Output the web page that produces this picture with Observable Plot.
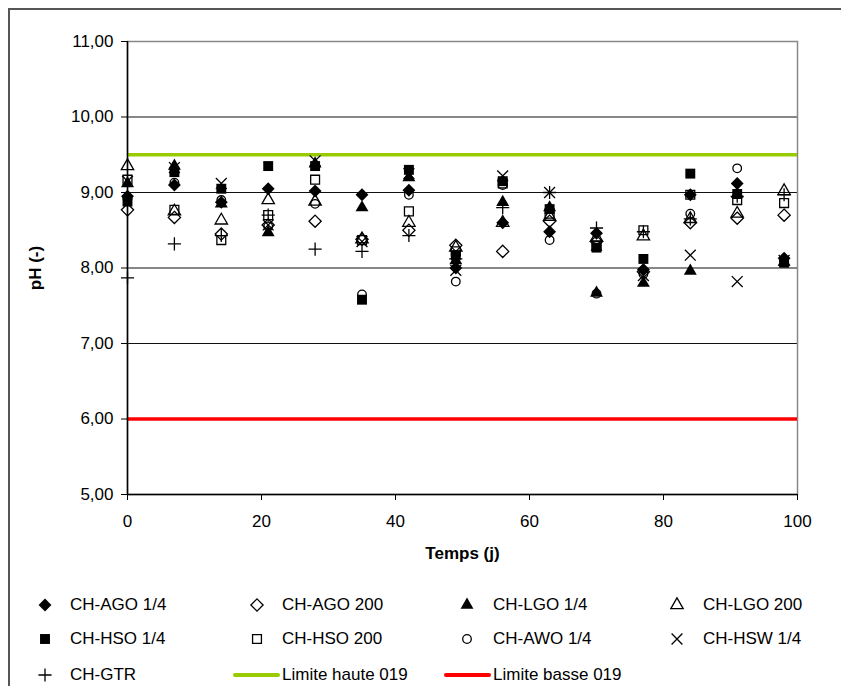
<!DOCTYPE html>
<html>
<head>
<meta charset="utf-8">
<script src="https://cdn.jsdelivr.net/npm/d3@7"></script>
<script src="https://cdn.jsdelivr.net/npm/@observablehq/plot@0.6"></script>
<style>
  body { margin: 0; background: #fff; font-family: "Liberation Sans", Arial, sans-serif; }
  #wrap { position: relative; width: 841px; height: 686px; overflow: hidden; background: #fff; }
  #border { position: absolute; left: 8px; top: 8px; width: 1000px; height: 1000px;
            border-left: 2px solid #555; border-top: 2px solid #555; pointer-events: none; }
  #legend { position: absolute; left: 0; top: 590px; width: 841px; height: 96px; }
  .item-text { position: absolute; font-size: 17px; line-height: 20px; color: #000; white-space: nowrap; transform: translateY(-50%); }
  .item-mark { position: absolute; transform: translate(-50%, -50%); }
</style>
</head>
<body>
<div id="wrap">
  <div id="chart"></div>
  <div id="legend"></div>
  <div id="border"></div>
</div>
<script>
// ---- data ----
const days = [0, 7, 14, 21, 28, 35, 42, 49, 56, 63, 70, 77, 84, 91, 98];
const seriesNames = ["CH-AGO 1/4", "CH-AGO 200", "CH-LGO 1/4", "CH-LGO 200", "CH-HSO 1/4", "CH-HSO 200", "CH-AWO 1/4", "CH-HSW 1/4", "CH-GTR"];
const agoQuarter = [8.95, 9.10, 8.87, 9.05, 9.02, 8.97, 9.03, 8.00, 8.60, 8.48, 8.46, 7.98, 8.97, 9.12, 8.13];
const ago200     = [8.77, 8.67, 8.45, 8.57, 8.62, 8.38, 8.50, 8.30, 8.22, 8.62, 8.35, 7.95, 8.60, 8.66, 8.70];
const lgoQuarter = [9.12, 9.35, 8.85, 8.47, 9.38, 8.80, 9.20, 8.10, 8.87, 8.80, 7.67, 7.80, 7.96, 8.98, 8.08];
const lgo200     = [9.35, 8.75, 8.63, 8.90, 8.88, 8.38, 8.60, 8.27, 8.60, 8.68, 8.40, 8.42, 8.65, 8.72, 9.02];
const hsoQuarter = [8.88, 9.27, 9.05, 9.35, 9.35, 7.58, 9.30, 8.17, 9.15, 8.78, 8.27, 8.12, 9.25, 8.98, 8.07];
const hso200     = [9.17, 8.77, 8.37, 8.70, 9.17, 8.37, 8.75, 8.22, 9.12, 8.72, 8.30, 8.50, 8.97, 8.90, 8.86];
const awoQuarter = [8.92, 9.13, 8.90, 8.55, 8.85, 7.65, 8.97, 7.82, 9.10, 8.37, 7.66, 7.92, 8.72, 9.32, 8.10];
const hswQuarter = [9.15, 9.33, 9.12, 8.57, 9.42, 8.35, 9.25, 7.97, 9.22, 9.00, 8.30, 7.90, 8.17, 7.82, 8.10];
const gtr        = [7.87, 8.32, 8.43, 8.70, 8.25, 8.22, 8.43, 8.12, 8.80, 9.00, 8.53, 8.48, 8.65, 8.95, 8.97];
const limitNames = ["Limite haute 019", "Limite basse 019"];
const limitHigh = 9.5;
const limitLow = 6.0;
const xTicks = [0, 20, 40, 60, 80, 100];
const yTicks = [5, 6, 7, 8, 9, 10, 11];
const xLabel = "Temps (j)";
const yLabel = "pH (-)";

// ---- styling per series ----
const seriesValues = [agoQuarter, ago200, lgoQuarter, lgo200, hsoQuarter, hso200, awoQuarter, hswQuarter, gtr];
const styles = [
  {symbol: "diamond2", d3s: d3.symbolDiamond2, r: 5.8, filled: true},
  {symbol: "diamond2", d3s: d3.symbolDiamond2, r: 5.5, filled: false},
  {symbol: "triangle", d3s: d3.symbolTriangle, r: 4.8, filled: true},
  {symbol: "triangle", d3s: d3.symbolTriangle, r: 4.6, filled: false},
  {symbol: "square", d3s: d3.symbolSquare, r: 5.6, filled: true},
  {symbol: "square", d3s: d3.symbolSquare, r: 5.0, filled: false},
  {symbol: "circle", d3s: d3.symbolCircle, r: 4.3, filled: false},
  {symbol: "times", d3s: d3.symbolTimes, r: 5.0, filled: false},
  {symbol: "plus", d3s: d3.symbolPlus, r: 4.3, filled: false}
];

const fmt = d => d3.format(".2f")(d).replace(".", ",");

const dotMarks = seriesValues.map((vals, k) => {
  const data = days.map((d, i) => ({day: d, ph: vals[i], series: seriesNames[k]}));
  const s = styles[k];
  return Plot.dot(data, {
    x: "day", y: "ph", symbol: s.symbol, r: s.r,
    fill: s.filled ? "#000" : "none",
    stroke: s.filled ? "none" : "#000",
    strokeWidth: 1.3
  });
});

const chart = Plot.plot({
  width: 841,
  height: 590,
  marginLeft: 127,
  marginRight: 44,
  marginTop: 41,
  marginBottom: 96,
  style: {fontFamily: "'Liberation Sans', Arial, sans-serif", fontSize: "17px", background: "transparent", color: "#000", overflow: "visible"},
  x: {domain: [0, 100]},
  y: {domain: [5, 11]},
  marks: [
    Plot.ruleY(yTicks.slice(1, -1), {stroke: "#111", strokeWidth: 1}),
    Plot.frame({stroke: "#888", strokeWidth: 1.5}),
    Plot.ruleY([limitHigh], {stroke: "#99cc00", strokeWidth: 3.5}),
    Plot.ruleY([limitLow], {stroke: "#ff0000", strokeWidth: 3.5}),
    Plot.ruleX([0], {stroke: "#000", strokeWidth: 1.5}),
    Plot.ruleY([5], {stroke: "#000", strokeWidth: 1.5}),
    Plot.axisX({ticks: xTicks, tickSize: 6, tickPadding: 14, label: null, stroke: "#000"}),
    Plot.axisY({ticks: yTicks, tickSize: 6, tickPadding: 8, tickFormat: fmt, label: null, stroke: "#000"}),
    ...dotMarks,
    Plot.text([xLabel], {frameAnchor: "bottom", dy: 59, lineAnchor: "middle", fontWeight: "bold", fontSize: 17}),
    Plot.text([yLabel], {frameAnchor: "left", dx: -92, rotate: -90, textAnchor: "middle", lineAnchor: "middle", fontWeight: "bold", fontSize: 17})
  ]
});
document.getElementById("chart").appendChild(chart);

// ---- legend (HTML below the SVG) ----
const legend = document.getElementById("legend");
const colMarkX = [45, 257, 467, 677];
const colTextX = [70, 282, 493, 703];
const rowY = [15, 49, 85];
const items = seriesNames.map((n, k) => ({label: n, style: styles[k]}))
  .concat([{label: limitNames[0], line: "#99cc00"}, {label: limitNames[1], line: "#ff0000"}]);
items.forEach((it, i) => {
  const col = i % 4, row = Math.floor(i / 4);
  const y = rowY[row];
  if (it.line) {
    const ln = document.createElement("div");
    ln.style.cssText = `position:absolute;left:${colTextX[col] - 49}px;top:${y - 2}px;width:47px;height:4px;background:${it.line};border-radius:2px;`;
    legend.appendChild(ln);
  } else {
    const s = it.style;
    const size = Math.PI * s.r * s.r;
    const svg = d3.create("svg").attr("width", 18).attr("height", 18).attr("class", "item-mark")
      .style("left", colMarkX[col] + "px").style("top", y + "px").style("overflow", "visible");
    svg.append("path").attr("transform", "translate(9,9)")
      .attr("d", d3.symbol(s.d3s, size)())
      .attr("fill", s.filled ? "#000" : "none")
      .attr("stroke", s.filled ? "none" : "#000")
      .attr("stroke-width", 1.3);
    legend.appendChild(svg.node());
  }
  const t = document.createElement("div");
  t.className = "item-text";
  t.style.left = colTextX[col] + "px";
  t.style.top = y + "px";
  t.textContent = it.label;
  legend.appendChild(t);
});
</script>
</body>
</html>
